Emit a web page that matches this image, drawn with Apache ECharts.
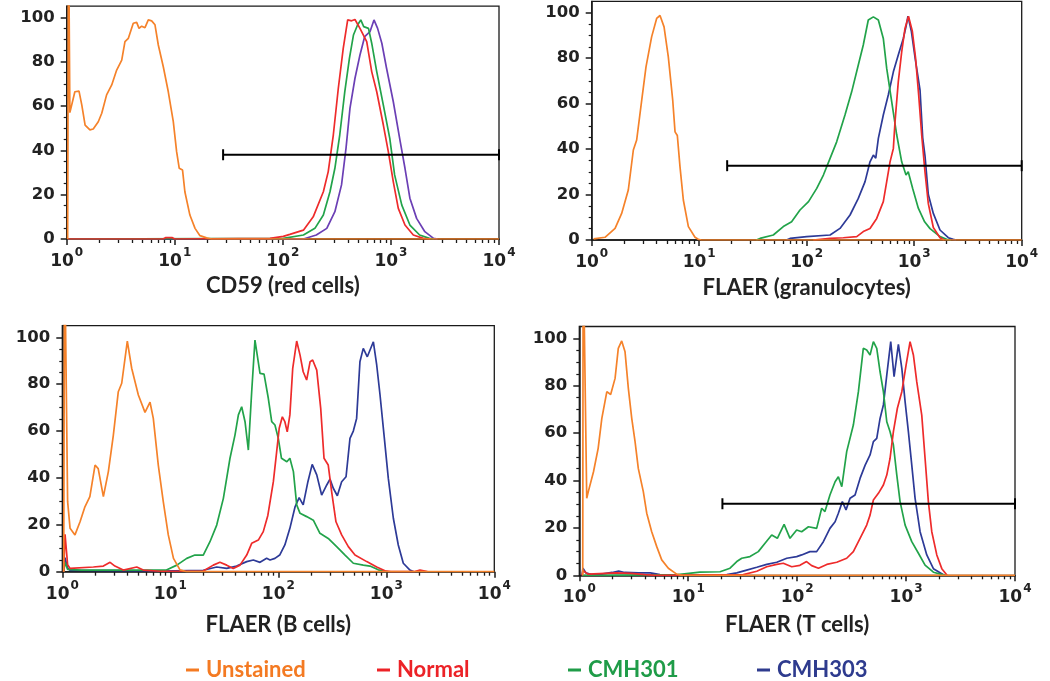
<!DOCTYPE html>
<html><head><meta charset="utf-8">
<script src="https://cdn.jsdelivr.net/npm/echarts@6/dist/echarts.min.js"></script>
<style>html,body{margin:0;padding:0;background:#fff}#c{width:1050px;height:681px}</style>
</head><body><div id="c"></div>
<script>
// ---------- tick values ----------
const xMajorTicks = [1, 10, 100, 1000, 10000];
const xMinorTicks = [2,3,4,5,6,7,8,9,20,30,40,50,60,70,80,90,200,300,400,500,600,700,800,900,2000,3000,4000,5000,6000,7000,8000,9000];
const yMajorTicks = [0, 20, 40, 60, 80, 100];
const yMinorTicks = [5,10,15,25,30,35,45,50,55,65,70,75,85,90,95];

const seriesNames = ['Unstained', 'Normal', 'CMH301', 'CMH303'];
const panelTitles = ['CD59 (red cells)', 'FLAER (granulocytes)', 'FLAER (B cells)', 'FLAER (T cells)'];

// ---------- panel 1 : CD59 (red cells) ----------
const p1Unstained = [[1.02,0],[1.04,140],[1.06,140],[1.07,57],[1.19,66.4],[1.30,66.7],[1.38,60.4],[1.48,51.4],[1.64,49.2],[1.76,49.6],[1.96,52.9],[2.11,56.7],[2.34,65],[2.61,69.5],[2.90,76.2],[3.23,80.7],[3.46,89],[3.72,90.5],[4.13,97.3],[4.44,97.7],[4.67,95],[4.94,96],[5.30,95.3],[5.69,98.8],[6.11,98.4],[6.56,96.6],[7.04,87.5],[7.83,77.7],[8.71,66.4],[9.69,52.9],[10.4,39.4],[11.0,31.9],[11.8,31.1],[12.4,21.3],[13.8,10.8],[15.4,4.8],[17.1,1.5],[19.7,0.5],[22,0],[10000,0]];
const p1Normal = [[1.02,0],[7.8,0],[8.2,0.6],[9.5,0.6],[10,0],[76,0.3],[101,1.2],[116,2.1],[155,4],[191,10],[237,21.3],[263,30.4],[293,46.9],[326,68],[362,86],[398,98.8],[433,98.4],[465,99],[517,95],[597,89],[664,75.5],[739,66.4],[851,51.4],[946,39.4],[1052,25.8],[1170,13.8],[1349,6.3],[1611,1.8],[1995,0.3],[2300,0]];
const p1CMH301 = [[1.02,0],[101,0.3],[155,1.8],[198,4.8],[237,10.8],[273,21.3],[303,31.9],[336,46.9],[374,66.4],[413,81.5],[450,92],[491,96.5],[526,98.8],[560,95.8],[620,95],[664,88.3],[739,75.5],[851,60.4],[976,45.4],[1082,28.9],[1261,15.3],[1498,6.3],[1843,1.8],[2270,0.3],[2500,0]];
const p1CMH303 = [[1.02,0],[155,0],[204,1.8],[255,4.8],[303,12.3],[349,24.4],[384,40.9],[418,59],[465,72.5],[517,83],[572,91.3],[640,93.5],[697,98.8],[753,95],[824,88.3],[911,77],[1052,61.9],[1219,43.9],[1349,31.9],[1498,18.4],[1728,9.3],[2060,3.3],[2480,0.3],[2700,0]];
const p1Gate = [[28,38],[10000,38]];

// ---------- panel 2 : FLAER (granulocytes) ----------
const p2Unstained = [[1.04,0.5],[1.33,1.2],[1.65,5.1],[1.90,11.7],[2.19,22],[2.44,39.6],[2.62,44],[2.92,61.6],[3.20,76.2],[3.61,89.4],[4.02,97.5],[4.32,98.8],[4.71,93.8],[5.16,80.6],[5.67,61.6],[5.96,47.6],[6.26,46],[6.63,32.2],[7.12,17.6],[7.93,5.9],[9.14,1.2],[9.8,0.3],[10.5,0],[10000,0]];
const p2Normal = [[115,0],[165,0.7],[219,1],[292,1.5],[336,3.7],[388,5.1],[448,9.5],[516,16.9],[555,25.7],[596,34.4],[640,40.3],[663,52],[711,69.6],[765,82.8],[821,93.1],[885,98.5],[960,92],[1030,80],[1100,64],[1175,46],[1260,30],[1353,16],[1506,5.5],[1738,1],[1900,0]];
const p2CMH301 = [[34,0],[36.8,0.7],[48.9,2.2],[60.6,5.9],[72.4,8],[86.6,13.2],[104,16.9],[124,22.7],[143,28.6],[165,35.9],[190,43.2],[227,55],[262,65.2],[302,77],[336,85.8],[374,96.8],[417,98.2],[464,96.8],[516,88.7],[555,75.5],[618,60.8],[688,46.2],[765,34.4],[839,28.6],[880,30],[968,22.7],[1092,14],[1250,8],[1404,5],[1738,1.5],[2005,0.3],[2200,0]];
const p2CMH303 = [[65,0],[70,0.7],[100,1.5],[165,2.2],[204,5.1],[253,11],[302,18.3],[349,25.7],[388,34.4],[417,37.4],[439,36],[464,44.7],[516,55],[574,63.8],[640,74],[711,81.4],[792,88.7],[840,94],[875,98.5],[940,92],[1020,80],[1133,66],[1200,45],[1260,37],[1353,20],[1506,11.7],[1738,4.4],[2075,1],[2312,0.3],[2450,0]];
const p2Gate = [[18.2,32.7],[10000,32.7]];

// ---------- panel 3 : FLAER (B cells) ----------
const p3Unstained = [[1.03,0],[1.05,140],[1.07,140],[1.12,30],[1.18,18.5],[1.31,15.7],[1.46,21.3],[1.62,27.7],[1.80,32],[2.01,45.5],[2.15,44],[2.40,32],[2.67,42.7],[2.97,58.3],[3.30,76.8],[3.55,80.4],[4.0,98.4],[4.39,86.8],[5.06,75.4],[5.83,68],[6.49,72.3],[6.96,65.4],[7.74,45.5],[8.61,29.9],[9.58,15.7],[10.7,5.7],[12.3,0.8],[14.2,0],[10000,0]];
const p3Normal = [[1.03,0],[1.06,16],[1.12,3],[1.18,1.4],[1.94,2],[2.40,2.4],[2.77,4],[3.07,2.4],[3.67,0.7],[4.89,2],[5.62,0.7],[8.1,0.2],[20.2,0.3],[25,2.8],[28.8,4],[33.3,2.8],[38.3,1.4],[44.2,2.8],[51,7.1],[56.7,12.1],[65.3,13.5],[72.6,17.1],[80,24],[90,38.4],[96.6,51.2],[102,61.2],[109,66.1],[115,64],[121,59.7],[128,66.9],[136,86.8],[148,98.4],[159,92.4],[170,85.3],[183,81.8],[197,89.6],[208,90.3],[227,86],[247,69.7],[265,48.4],[290,45.5],[312,34.1],[342,21.3],[386,15.7],[445,10.7],[513,7.1],[659,4.3],[815,2],[972,0.4],[1100,0],[1800,0],[2050,0.7],[2400,0]];
const p3CMH301 = [[1.03,0],[1.06,4],[1.12,1],[1.5,0.7],[9.2,0.7],[11.5,2.8],[14.2,5.7],[16.9,7.1],[20.2,7.1],[23.3,12.8],[26.9,19.9],[31,31.3],[35.7,48.4],[39.7,58.3],[42.7,66.9],[45.8,70.4],[49.2,64],[52.8,51.9],[56.7,76.8],[60.8,98.8],[67.7,84.6],[73.8,84.3],[80.8,74],[86.9,64],[93.1,62.6],[100,56.9],[107,48.4],[120,46.9],[128,48.4],[138,42.7],[148,28.5],[159,24.9],[183,23.5],[211,22],[243,16.4],[290,14.2],[347,10.7],[415,7.1],[495,3.6],[612,2.8],[706,2.4],[843,0.8],[1007,0]];
const p3CMH303 = [[1.03,0],[1.06,6],[1.12,1.5],[1.18,0.6],[3,0.5],[8,0.3],[20.2,0.6],[26.9,2],[33.3,1.4],[41.1,2.4],[51,4.3],[58.7,5],[67.7,4],[78,5.7],[83.8,5],[93.1,5.7],[103,7.1],[115,11.4],[128,18.5],[143,27.7],[156,31.6],[170,28.5],[188,38.4],[206,45.8],[227,41.3],[252,32.7],[281,37],[301,39.5],[323,35.6],[352,32.4],[386,38.4],[424,40.5],[461,56.9],[495,60],[531,65.4],[570,89.6],[612,95.3],[667,91.7],[759,98.1],[815,88.2],[875,75.4],[953,58.3],[1044,39.8],[1162,22.8],[1291,11.4],[1437,3.6],[1656,0.7],[1800,0]];

// ---------- panel 4 : FLAER (T cells) ----------
const p4Unstained = [[1.075,0],[1.085,140],[1.10,140],[1.17,32.5],[1.21,35.3],[1.35,43.7],[1.49,53.6],[1.61,66.2],[1.79,77.5],[1.94,76.3],[2.13,83.1],[2.28,95.8],[2.45,98.9],[2.63,94.3],[2.82,78.9],[3.03,66.2],[3.25,56.4],[3.48,45.1],[3.87,35.3],[4.16,26.2],[4.62,18.4],[5.14,12.1],[5.71,6.5],[6.57,3],[7.83,0.5],[8.8,0],[10000,0]];
const p4Normal = [[1.06,0],[1.08,2],[1.2,0.5],[2.2,1],[3,0.8],[4,0.3],[5,0],[32,0.3],[42.6,1.7],[52.6,3.6],[65,4.6],[74.6,5.1],[89.2,3.6],[106,4.2],[122,5.8],[136,4.1],[157,3],[187,4.6],[231,5.5],[285,7.2],[328,10],[378,15.6],[435,21.2],[467,25.4],[501,31.8],[557,34.6],[619,38.1],[665,42.3],[713,49.4],[765,60.6],[832,70.5],[914,77.5],[1000,88.7],[1088,98.6],[1167,93],[1253,81.7],[1393,67.6],[1494,49.4],[1602,31.1],[1722,18.4],[1914,8.6],[2128,2.8],[2380,0]];
const p4CMH301 = [[1.06,0],[1.5,0],[8,0.3],[12.8,1.3],[19.6,1.5],[24.2,3],[27.9,5.8],[31,7.2],[36.9,7.9],[44,10],[50.7,13.5],[58.4,17],[65.8,15.6],[75.9,21.5],[86,15.6],[99,19.1],[110,18.4],[127,20.5],[151,19.8],[168,28.3],[180,26.9],[200,33.9],[223,39.5],[239,41.6],[257,37.4],[285,52.2],[328,63.4],[365,77.5],[405,95.8],[435,95.1],[467,93],[501,98.6],[538,95.8],[577,85.9],[619,77.5],[665,64.8],[713,60.6],[765,55],[822,42.3],[881,31.1],[980,21.2],[1128,14.2],[1298,9.3],[1494,4.3],[1782,1.3],[2203,0.2],[2300,0]];
const p4CMH303 = [[1.06,0],[1.08,3],[1.15,1],[1.3,0.3],[1.6,0.5],[2.0,1.2],[2.3,1.8],[2.6,1.2],[3.5,1],[4.5,1],[5.5,0.3],[7,0.2],[22.6,0.3],[27.9,1],[34.4,2.2],[42.6,3.4],[52.6,4.6],[65,5.5],[80.3,7.2],[99,7.9],[110,8.6],[131,10],[151,10],[174,14.2],[200,19.8],[223,22.6],[239,26.2],[260,31.1],[281,27.6],[306,32.5],[340,33.9],[378,40.9],[421,46.5],[467,50.8],[501,56.4],[538,57.8],[577,66.2],[619,71.9],[665,84.5],[723,98.6],[776,83.8],[850,97.5],[914,87.3],[980,73.2],[1050,60.6],[1128,46.5],[1210,32.5],[1345,18.4],[1549,8.6],[1782,2.8],[2203,0.2],[2300,0]];
const p4Gate = [[20.6,30.2],[10000,30.2]];

// ---------- styling / layout ----------
const lineColors = ['#F5822A', '#EE2B2B', '#22A34A', '#2D3A97'];
const panel1Colors = ['#F5822A', '#EE2B2B', '#22A34A', '#6B3FB5'];
const legendColors = ['#F47A22', '#EC2227', '#1F9C48', '#2E3B8E'];
const legendLefts = [186, 377, 568, 757];

const grids = [
  {left: 66.7, top: 6.2, width: 432.3, height: 232.8},
  {left: 591.7, top: 1.4, width: 430, height: 238.6},
  {left: 62.3, top: 325.6, width: 432, height: 246.1},
  {left: 579.3, top: 326.5, width: 435.7, height: 248.8}
];
const nameGaps = [36, 37, 42, 39];

const panels = [
  {data: [p1Unstained, p1Normal, p1CMH301, p1CMH303], gate: p1Gate, colors: panel1Colors},
  {data: [p2Unstained, p2Normal, p2CMH301, p2CMH303], gate: p2Gate, colors: lineColors},
  {data: [p3Unstained, p3Normal, p3CMH301, p3CMH303], gate: null, colors: lineColors},
  {data: [p4Unstained, p4Normal, p4CMH301, p4CMH303], gate: p4Gate, colors: lineColors}
];

const ink = '#1a1a1a';
const tickFont = {fontFamily: 'DejaVu Sans', fontWeight: 'bold', color: '#222'};

const xAxis = [], yAxis = [], series = [];
panels.forEach((p, i) => {
  xAxis.push({
    type: 'log', logBase: 10, gridIndex: i, min: 1, max: 10000, position: 'bottom',
    axisLine: {show: true, lineStyle: {color: ink, width: 1.5}},
    axisTick: {show: true, inside: false, length: 6, customValues: xMajorTicks, lineStyle: {color: ink, width: 1.5}},
    axisLabel: {
      show: true, margin: 8, customValues: xMajorTicks,
      formatter: v => '{b|10}{s|' + Math.round(Math.log10(v)) + '}',
      rich: {
        b: Object.assign({fontSize: 17, padding: [6, 0, 0, 0]}, tickFont),
        s: Object.assign({fontSize: 12, verticalAlign: 'top', padding: [0, 0, 0, 1]}, tickFont)
      }
    },
    splitLine: {show: false}, minorTick: {show: false}, minorSplitLine: {show: false},
    name: panelTitles[i], nameLocation: 'middle', nameGap: nameGaps[i],
    nameTextStyle: {fontFamily: 'Lato', fontWeight: 'bold', fontSize: 22, color: '#222'}
  });
  xAxis.push({
    type: 'log', logBase: 10, gridIndex: i, min: 1, max: 10000, position: 'bottom', offset: 0,
    axisLine: {show: false},
    axisTick: {show: true, inside: false, length: 4, customValues: xMinorTicks, lineStyle: {color: ink, width: 1.3}},
    axisLabel: {show: false}, splitLine: {show: false}
  });
  yAxis.push({
    type: 'value', gridIndex: i, min: 0, max: 105, position: 'left',
    axisLine: {show: true, lineStyle: {color: ink, width: 1.5}},
    axisTick: {show: true, inside: false, length: 6, customValues: yMajorTicks, lineStyle: {color: ink, width: 1.5}},
    axisLabel: Object.assign({show: true, margin: 12, fontSize: 16.5, customValues: yMajorTicks}, tickFont),
    splitLine: {show: false}
  });
  yAxis.push({
    type: 'value', gridIndex: i, min: 0, max: 105, position: 'left', offset: 0,
    axisLine: {show: false},
    axisTick: {show: true, inside: false, length: 3, customValues: yMinorTicks, lineStyle: {color: ink, width: 1.2}},
    axisLabel: {show: false}, splitLine: {show: false}
  });
  // draw CMH303, CMH301, Normal, then Unstained on top
  [3, 2, 1, 0].forEach(k => {
    series.push({
      type: 'line', name: seriesNames[k], xAxisIndex: 2 * i, yAxisIndex: 2 * i,
      data: p.data[k], showSymbol: false, symbol: 'none', smooth: false, clip: true,
      lineStyle: {color: p.colors[k], width: 1.7}, itemStyle: {color: p.colors[k]},
      emphasis: {disabled: true}, animation: false, z: 2 + (3 - k) * 0.1
    });
  });
  if (p.gate) {
    series.push({
      type: 'line', name: 'gate' + i, xAxisIndex: 2 * i, yAxisIndex: 2 * i,
      data: p.gate, symbol: 'rect', symbolSize: [2, 11], showSymbol: true, clip: false,
      lineStyle: {color: '#000', width: 2}, itemStyle: {color: '#000'},
      emphasis: {disabled: true}, animation: false, z: 3, silent: true
    });
  }
});

const legend = seriesNames.map((n, i) => ({
  data: [{name: n, icon: 'rect', itemStyle: {color: legendColors[i]}, textStyle: {color: legendColors[i]}}],
  left: legendLefts[i], top: 659, padding: 0, itemWidth: 13, itemHeight: 3, itemGap: 0,
  selectedMode: false,
  textStyle: {fontFamily: 'Lato', fontWeight: 'bold', fontSize: 22, color: legendColors[i], padding: [0, 0, 0, 2]}
}));

const chart = echarts.init(document.getElementById('c'), null, {renderer: 'canvas'});
chart.setOption({
  backgroundColor: '#fff',
  animation: false,
  grid: grids.map(g => Object.assign({show: true, borderColor: ink, borderWidth: 1.3, backgroundColor: 'transparent', containLabel: false}, g)),
  xAxis, yAxis, series, legend
});
</script></body></html>
